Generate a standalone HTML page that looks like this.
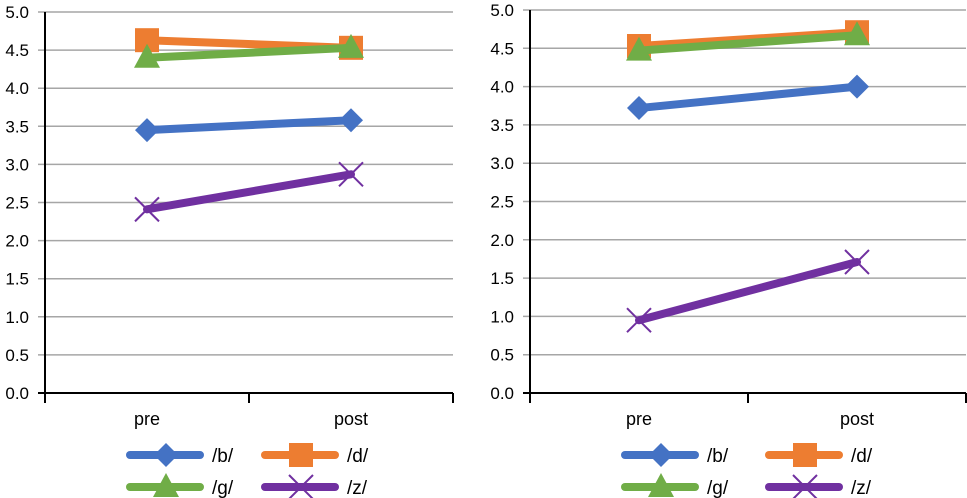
<!DOCTYPE html>
<html><head><meta charset="utf-8"><style>
html,body{margin:0;padding:0;background:#fff;}
svg{display:block;font-family:"Liberation Sans",Arial,sans-serif;}
</style></head><body>
<svg id="c" width="967" height="498"></svg>
<script>
const categories = ["pre","post"];
const seriesNames = ["/b/","/d/","/g/","/z/"];
const leftB = [3.45, 3.58];
const leftD = [4.63, 4.53];
const leftG = [4.40, 4.53];
const leftZ = [2.41, 2.87];
const rightB = [3.72, 4.00];
const rightD = [4.53, 4.71];
const rightG = [4.47, 4.67];
const rightZ = [0.95, 1.71];
const yTicks = ["0.0","0.5","1.0","1.5","2.0","2.5","3.0","3.5","4.0","4.5","5.0"];
const yMax = 5;

const NS="http://www.w3.org/2000/svg";
const svg=document.getElementById('c');
const colors=["#4472c4","#ed7d31","#70ad47","#7030a0"];
const markers=["diamond","square","triangle","x"];
function mk(tag,attrs,parent){const e=document.createElementNS(NS,tag);for(const k in attrs)e.setAttribute(k,attrs[k]);(parent||svg).appendChild(e);return e;}
function marker(g,type,x,y,col){
  let e;
  if(type==="diamond"){e=mk('polygon',{points:`${x},${y-12} ${x+12},${y} ${x},${y+12} ${x-12},${y}`,fill:col},g);}
  else if(type==="square"){e=mk('rect',{x:x-12,y:y-12,width:24,height:24,fill:col},g);}
  else if(type==="triangle"){e=mk('polygon',{points:`${x},${y-14} ${x+13},${y+10} ${x-13},${y+10}`,fill:col},g);}
  else {e=mk('path',{d:`M${x-12},${y-12}L${x+12},${y+12}M${x+12},${y-12}L${x-12},${y+12}`,stroke:col,'stroke-width':2,fill:'none'},g);}
  
  
}
function panel(name,ax,top,bottom,right,series,legX){
  const g=mk('g',{});
  
  
  const yS=v=>bottom-(bottom-top)*v/yMax;
  const step=(right-ax)/categories.length;
  const xS=i=>ax+step*(i+0.5);
  yTicks.forEach(t=>{
    const y=yS(parseFloat(t));
    const l=mk('line',{x1:ax-7,x2:right,y1:y,y2:y,stroke:parseFloat(t)===0?'#000':'#a6a6a6','stroke-width':parseFloat(t)===0?2:1.5},g);
    
    
    const tx=mk('text',{x:ax-16,y:y+6,'text-anchor':'end','font-size':17,fill:'#000'},g);
    tx.textContent=t;
    
    
  });
  const ya=mk('line',{x1:ax,x2:ax,y1:top,y2:bottom+10,stroke:'#000','stroke-width':2},g);
  
  
  for(let i=0;i<=categories.length;i++){
    const x=ax+step*i;
    const tk=mk('line',{x1:x,x2:x,y1:bottom,y2:bottom+10,stroke:'#000','stroke-width':2},g);
    
    
  }
  categories.forEach((c,i)=>{
    const t=mk('text',{x:xS(i),y:425,'text-anchor':'middle','font-size':18},g);
    t.textContent=c;
    
    
  });
  series.forEach((vals,s)=>{
    const pts=vals.map((v,i)=>`${xS(i)},${yS(v)}`).join(' ');
    const pl=mk('polyline',{points:pts,fill:'none',stroke:colors[s],'stroke-width':8,'stroke-linecap':'round'},g);
    
    
    vals.forEach((v,i)=>marker(g,markers[s],xS(i),yS(v),colors[s]));
  });
  seriesNames.forEach((n,s)=>{
    const col=s%2, row=Math.floor(s/2);
    const x0=legX[col], y=455+row*32;
    const lg=mk('g',{},g);
    
    
    mk('line',{x1:x0,x2:x0+70,y1:y,y2:y,stroke:colors[s],'stroke-width':8,'stroke-linecap':'round'},lg);
    marker(lg,markers[s],x0+36,y,colors[s]);
    const t=mk('text',{x:x0+82,y:y+7,'font-size':19},lg);
    t.textContent=n;
  });
}
panel('left-chart',45,12,393,453,[leftB,leftD,leftG,leftZ],[130,265]);
panel('right-chart',530,10,393,966,[rightB,rightD,rightG,rightZ],[625,769]);
</script>
</body></html>
